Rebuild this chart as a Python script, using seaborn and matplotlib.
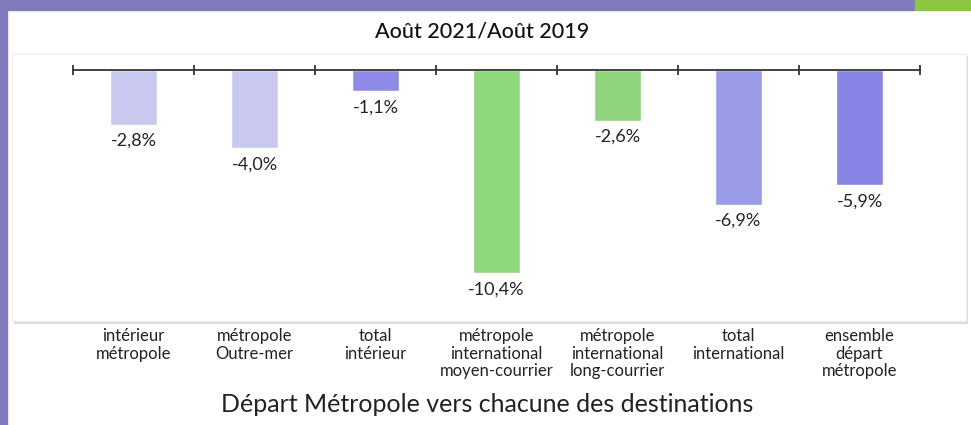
import numpy as np
import pandas as pd
import seaborn as sns
import matplotlib.pyplot as plt
from matplotlib.patches import Rectangle, FancyBboxPatch
from matplotlib.ticker import FixedLocator

# Août 2021 / Août 2019 : évolution par destination (départ métropole)
categories = [
    "intérieur\nmétropole",
    "métropole\nOutre-mer",
    "total\nintérieur",
    "métropole\ninternational\nmoyen-courrier",
    "métropole\ninternational\nlong-courrier",
    "total\ninternational",
    "ensemble\ndépart\nmétropole",
]
values = [-2.8, -4.0, -1.1, -10.4, -2.6, -6.9, -5.9]
bar_colors = ["#c9c9f0", "#c9c9f0", "#8f8ae8", "#8ed77a", "#8fd47c", "#9a9be6", "#8784e6"]

title = "Août 2021/Août 2019"
xlabel = "Départ Métropole vers chacune des destinations"

df = pd.DataFrame({"cat": categories, "val": values})

sns.set_style("white")
plt.rcParams["font.family"] = ["Lato", "DejaVu Sans"]

fig = plt.figure(figsize=(9.71, 4.25), dpi=100)
fig.patch.set_facecolor("white")

# decorative frame: purple strips, green corner, white panel with shadow
fig.patches.append(Rectangle((0, 0), 7 / 971, 1, transform=fig.transFigure,
                             color="#8079bb", zorder=-5))
fig.patches.append(Rectangle((0, 1 - 10 / 425), 915 / 971, 10 / 425,
                             transform=fig.transFigure, color="#8079bb", zorder=-5))
fig.patches.append(Rectangle((915 / 971, 1 - 10 / 425), 56 / 971, 10 / 425,
                             transform=fig.transFigure, color="#8cc63f", zorder=-5))
fig.patches.append(FancyBboxPatch((14 / 971, 1 - 324 / 425), 954 / 971, 268 / 425,
                                  boxstyle="square,pad=0", transform=fig.transFigure,
                                  facecolor="#dcdcdc", edgecolor="none", zorder=-4))
fig.patches.append(FancyBboxPatch((12 / 971, 1 - 321 / 425), 954 / 971, 267 / 425,
                                  boxstyle="square,pad=0", transform=fig.transFigure,
                                  facecolor="white", edgecolor="#eeeeee", lw=0.8, zorder=-3))

ax = fig.add_axes([73 / 971, 1 - 322 / 425, 847 / 971, 252 / 425])
ax.set_facecolor("none")

sns.barplot(data=df, x="cat", y="val", hue="cat", palette=bar_colors,
            width=0.39, legend=False, saturation=1, ax=ax)

ax.set_ylim(-12.9, 0)
ax.set_xlim(-0.5, len(categories) - 0.5)

labels = [f"{v:.1f}%".replace(".", ",") for v in values]
for cont, lab in zip(ax.containers, labels):
    ax.bar_label(cont, labels=[lab], padding=6, fontsize=13, color="#222222")

for s in ["left", "right", "bottom"]:
    ax.spines[s].set_visible(False)
ax.spines["top"].set_color("#333333")
ax.spines["top"].set_linewidth(1.3)
ax.spines["top"].set_zorder(5)

ax.xaxis.set_minor_locator(FixedLocator(np.arange(-0.5, len(categories), 1)))
ax.tick_params(axis="x", which="minor", top=True, bottom=False, direction="inout",
               length=7, width=1.3, color="#333333")
ax.tick_params(axis="x", which="major", length=0, pad=4, labelsize=12,
               labelcolor="#222222")
for t in ax.get_xticklabels():
    t.set_linespacing(1.15)
ax.set_yticks([])
ax.set_ylabel("")
ax.set_xlabel("")

fig.text(482 / 971, 1 - 32 / 425, title, ha="center", va="center",
         fontsize=15.5, fontweight="medium", color="#111111")
fig.text(487 / 971, 1 - 405 / 425, xlabel, ha="center", va="center",
         fontsize=18, color="#222222")

fig.savefig("out.png", dpi=100)
